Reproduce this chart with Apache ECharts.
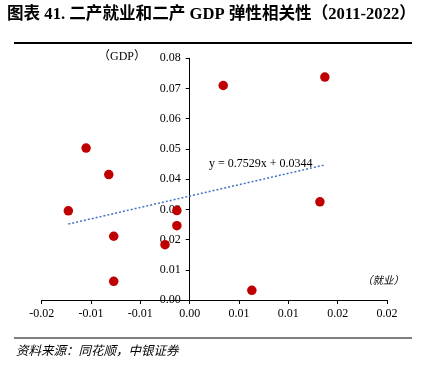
<!DOCTYPE html>
<html><head><meta charset="utf-8">
<script src="https://cdn.jsdelivr.net/npm/echarts@6/dist/echarts.min.js"></script>
<style>html,body{margin:0;padding:0;background:#fff}#c{width:428px;height:366px}</style>
</head><body><div id="c"></div>
<script>
// Data (2011-2022): x = 二产就业弹性, y = 二产GDP弹性
const employment = [-0.0123, -0.0105, -0.0082, -0.0077, -0.0077, -0.0025, -0.0013, -0.0013, 0.0034, 0.0063, 0.0132, 0.0137];
const gdp        = [0.0295, 0.0503, 0.0415, 0.0211, 0.0062, 0.0183, 0.0296, 0.0246, 0.0710, 0.0032, 0.0325, 0.0738];
// Trend line equation shown on chart: y = 0.7529x + 0.0344
const trendSlope = 0.7529;
const trendIntercept = 0.0344;
const xTickLabels = ['-0.02','-0.01','-0.01','0.00','0.01','0.01','0.02','0.02'];
const yTickLabels = ['0.00','0.01','0.02','0.03','0.04','0.05','0.06','0.07','0.08'];
const titleText = '图表 41. 二产就业和二产 GDP 弹性相关性（2011-2022）';
const sourceText = '资料来源：同花顺，中银证券';

const X_MIN = -0.015, X_MAX = 0.02, X_INT = 0.005;
const Y_MIN = 0, Y_MAX = 0.08, Y_INT = 0.01;

const points = employment.map((x, i) => [x, gdp[i]]);
const xLo = Math.min(...employment), xHi = Math.max(...employment);
const trend = [[xLo, trendSlope * xLo + trendIntercept], [xHi, trendSlope * xHi + trendIntercept]];

const GRID_LEFT = 41.7, GRID_RIGHT = 41;
const plotW = 428 - GRID_LEFT - GRID_RIGHT;
const zeroOffset = -plotW * (0 - X_MIN) / (X_MAX - X_MIN);

const serif = '"Liberation Serif", "Times New Roman", "Noto Sans CJK SC", serif';
const chart = echarts.init(document.getElementById('c'), null, {renderer: 'canvas'});
chart.setOption({
  animation: false,
  backgroundColor: '#fff',
  grid: {left: GRID_LEFT, right: GRID_RIGHT, top: 58.3, bottom: 66, containLabel: false},
  xAxis: {
    type: 'value', min: X_MIN, max: X_MAX, interval: X_INT,
    axisLine: {onZero: false, lineStyle: {color: '#000', width: 1}},
    axisTick: {show: true, length: 4, lineStyle: {color: '#000'}},
    splitLine: {show: false},
    axisLabel: {
      margin: 8, color: '#000', fontSize: 12, fontFamily: serif,
      formatter: v => xTickLabels[Math.round((v - X_MIN) / X_INT)]
    }
  },
  yAxis: {
    type: 'value', min: Y_MIN, max: Y_MAX, interval: Y_INT,
    offset: zeroOffset,
    axisLine: {show: true, onZero: false, lineStyle: {color: '#000', width: 1}},
    axisTick: {show: true, length: 4, lineStyle: {color: '#000'}},
    splitLine: {show: false},
    axisLabel: {
      margin: 9, color: '#000', fontSize: 12, fontFamily: serif,
      formatter: v => yTickLabels[Math.round((v - Y_MIN) / Y_INT)]
    }
  },
  series: [
    {
      type: 'line', data: trend, symbol: 'none', silent: true, z: 1,
      lineStyle: {color: '#4472C4', width: 1.5, type: [2, 2]}
    },
    {
      type: 'scatter', data: points, symbol: 'circle', symbolSize: 9.5, z: 3,
      itemStyle: {color: '#C00000', opacity: 1}
    }
  ],
  graphic: [
    {type: 'text', left: 7, top: 6, style: {text: titleText, font: 'bold 16.6px ' + serif, fill: '#000'}},
    {type: 'rect', shape: {x: 14, y: 42, width: 398, height: 2}, style: {fill: '#000'}},
    {type: 'text', right: 282, top: 51, style: {text: '（GDP）', font: '12px ' + serif, fill: '#000'}},
    {type: 'text', left: 209, top: 158, style: {text: 'y = 0.7529x + 0.0344', font: '12px ' + serif, fill: '#000'}},
    {type: 'text', right: 24, top: 275, style: {text: '（就业）', font: 'italic 10.5px "Noto Sans CJK SC"', fill: '#000'}},
    {type: 'rect', shape: {x: 14, y: 337.5, width: 398, height: 1}, style: {fill: '#000'}},
    {type: 'text', left: 16, top: 344, style: {text: sourceText, font: 'italic 12.5px "Noto Sans CJK SC"', fill: '#000'}}
  ]
});
</script></body></html>
